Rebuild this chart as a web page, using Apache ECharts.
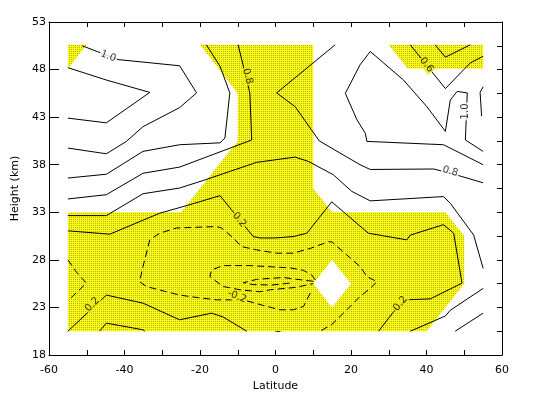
<!DOCTYPE html>
<html>
<head>
<meta charset="utf-8">
<script src="https://cdn.jsdelivr.net/npm/echarts@6/dist/echarts.min.js"></script>
<style>
html,body{margin:0;padding:0;background:#fff}
#chart{width:540px;height:397px}
</style>
</head>
<body>
<div id="chart"></div>
<script>
// tick values on the height axis
var heightTicks = [18, 23, 28, 33, 38, 43, 48, 53];
var heightMinor = [20.5, 25.5, 30.5, 35.5, 40.5, 45.5, 50.5];
var heightAll = [18, 20.5, 23, 25.5, 28, 30.5, 33, 35.5, 38, 40.5, 43, 45.5, 48, 50.5, 53];

// shaded (yellow) areas, [latitude, height]
var shadeMain = [[-20,50.6],[10,50.6],[10,35.5],[15,33],[45,33],[50,30.5],[50,25.5],[40,20.5],[-55,20.5],[-55,33],[-25,33],[-10,40.5],[-10,45.5]];
var shadeTopLeft = [[-55,50.6],[-50,50.6],[-55,48.1]];
var shadeTopRight = [[30,50.6],[55,50.6],[55,48.1],[35,48.1]];
var gapDiamond = [[15,28],[20,25.5],[15,23],[10,25.5]];

// solid contours
var line10top = [[-51.2,50.5],[-41.7,49.05],[-25.4,48.4],[-20.9,45.55],[-25.4,44.0],[-35.1,42.0],[-39.5,40.45],[-44.8,39.15],[-55,39.75]];
var line12top = [[-55,48.2],[-44.8,46.9],[-33.3,45.6],[-44.8,42.4],[-55,42.9]];
var line06left = [[-55,36.6],[-44.8,37.0],[-35.1,39.4],[-25.4,40.1],[-14.7,40.3],[-13.4,40.8],[-12.1,45.55],[-14.7,48.35],[-18.3,50.6]];
var line08left = [[-55,34.4],[-44.8,34.85],[-35.1,37.1],[-25.4,37.75],[-6.3,40.6],[-6.8,45.55],[-9.9,50.6]];
var line04 = [[-55,32.65],[-44.8,32.65],[-35.1,34.95],[-25.4,35.55],[-18.7,36.4],[-5,38.25],[5.2,38.8],[8.7,38.35],[15.3,36.95],[20.2,35.2],[25.1,34.2],[44.5,34.65],[46.3,33.95],[52.5,30.6],[55,27.1]];
var line02mid = [[-55,31.05],[-43.9,30.7],[-30.7,32.9],[-22.7,33.8],[-14.7,34.75],[-5.9,30.45],[-4.1,30.3],[-0.1,30.3],[4.7,30.45],[8.3,30.8],[14.9,34.1],[24.6,30.8],[34.8,30.1],[35.7,30.6],[44.5,31.7],[47.2,30.8],[49.4,25.55],[41,23.9],[34.4,23.8],[31.3,22.55],[27.3,20.5]];
var line08right = [[15.8,50.6],[0.3,45.55],[5.2,44.1],[11.6,40.5],[22.4,38.0],[25.1,37.5],[41.9,37.55],[49.0,36.8],[55,36.1]];
var line10right = [[55,38.0],[44.5,40.1],[24.2,40.45],[23.8,41.3],[21.6,42.7],[18.5,45.5],[22.4,48.5],[25.1,49.9],[33.9,46.9],[40.1,44.1],[45,41.5],[46.3,44.8],[48.1,45.7],[50.8,45.55],[50.3,40.6],[55,39.4]];
var line12right = [[55,46.2],[54.2,45.6],[54.6,43.1]];
var line06right = [[35.7,50.6],[45,46.0],[51.6,48.7],[55,49.4]];
var line04right = [[42.3,50.6],[45,49.3],[51.6,50.6]];
var line02low = [[-55,20.5],[-44.8,24.3],[-35.1,23.45],[-25.4,21.7],[-16.9,22.4],[-13.9,22.0],[-7.6,20.5]];
var line04low = [[-46.6,20.5],[-44.8,21.35],[-35.1,20.65],[-34.6,20.5]];
var lineRightA = [[55,25.0],[46.3,22.7],[45,22.1],[35.7,20.5]];
var lineRightB = [[55,22.4],[47.6,20.5]];

// dashed (negative) contours
var dashLeft = [[-55,28.0],[-52.8,26.75],[-50.1,25.55],[-55,23.7]];
var dashOuter = [[9.2,24.5],[7.4,23.1],[4.7,22.75],[1.2,22.75],[-4.1,23.3],[-8.5,23.8],[-15.6,23.8],[-20.0,24.0],[-25.4,24.3],[-28.9,24.65],[-34.2,25.2],[-36.0,25.7],[-35.1,27.3],[-33.3,30.1],[-30.7,30.8],[-26.2,31.35],[-15.6,31.5],[-14.3,31.35],[-11.2,30.3],[-9.0,29.4],[-5.0,29.05],[0.3,28.7],[4.7,28.7],[9.2,29.2],[14.0,29.9],[14.9,29.9],[19.8,28.2],[22.4,27.3],[24.2,26.25],[26.9,25.7],[25.1,25.0],[22.4,24.15],[18.9,22.75],[14.9,21.2],[11.8,20.5]];
var dashMid = [[10.5,25.9],[9.6,26.4],[7.4,26.9],[3.9,27.15],[-2.3,27.3],[-6.8,27.4],[-13.9,27.4],[-16.9,26.95],[-17.4,26.25],[-13.9,25.2],[-9.4,24.85],[-4.1,24.65],[-1.5,24.85],[5.2,25.1],[10.0,25.5]];
var dashInner = [[10.0,25.75],[4.7,26.0],[2.1,26.15],[-5.0,25.95],[-8.5,25.6],[-5.9,25.4],[-1.0,25.35],[4.7,25.6]];

// contour labels
var labelText = ['1.0', '0.8', '0.6', '1.0', '0.8', '0.2', '-0.2', '0.2', '0.2'];
var labelLat = [-44.3, -7.4, 40.0, 50.4, 46.3, -9.6, -10.2, -48.5, 33.1];
var labelHgt = [49.4, 47.3, 48.5, 43.6, 37.3, 32.2, 24.15, 23.3, 23.4];
var labelAngle = [-21, -76, -52, 90, -16, -51, -22, 45, 50];
var labelOnShade = [false, true, true, false, false, true, true, true, true];

var FONT = 'DejaVu Sans';
var YEL = '#ecec14';

// dithered yellow like the original
var pat = document.createElement('canvas');
pat.width = 2; pat.height = 2;
var pc = pat.getContext('2d');
pc.fillStyle = '#ffff00'; pc.fillRect(0, 0, 2, 2);
pc.fillStyle = '#b0b048'; pc.fillRect(1, 1, 1, 1);
var yellowFill = {image: pat, repeat: 'repeat'};

function areaSeries(poly, fill, z) {
  return {
    type: 'custom', z: z, silent: true, clip: false,
    data: [poly[0]],
    renderItem: function (params, api) {
      var pts = poly.map(function (p) { return api.coord(p); });
      return {type: 'polygon', shape: {points: pts}, style: {fill: fill}};
    }
  };
}

function contour(pts, dashed) {
  return {
    type: 'line', data: pts, z: 3, silent: true,
    showSymbol: false, symbol: 'none',
    lineStyle: {color: '#000', width: 1, type: dashed ? [7, 4] : 'solid'}
  };
}

var labelData = [];
for (var i = 0; i < labelText.length; i++) {
  labelData.push({
    value: [labelLat[i], labelHgt[i]],
    name: labelText[i],
    label: {rotate: labelAngle[i], backgroundColor: labelOnShade[i] ? YEL : '#fff'}
  });
}

var series = [
  areaSeries(shadeMain, yellowFill, 1),
  areaSeries(shadeTopLeft, yellowFill, 1),
  areaSeries(shadeTopRight, yellowFill, 1),
  areaSeries(gapDiamond, '#fff', 2)
];
[line10top, line12top, line06left, line08left, line04, line02mid, line08right, line10right,
 line12right, line06right, line04right, line02low, line04low, lineRightA, lineRightB].forEach(function (l) {
  series.push(contour(l, false));
});
[dashLeft, dashOuter, dashMid, dashInner].forEach(function (l) {
  series.push(contour(l, true));
});
series.push({
  type: 'scatter', z: 5, silent: true, symbolSize: 1,
  itemStyle: {color: 'rgba(0,0,0,0)'},
  data: labelData,
  label: {
    show: true, position: 'inside', formatter: '{b}',
    color: '#000', fontFamily: FONT, fontSize: 10, padding: [0, 1]
  }
});

var axisLine = {show: true, onZero: false, lineStyle: {color: '#000', width: 1}};
var txt = {color: '#000', fontFamily: FONT, fontSize: 11};

var myChart = echarts.init(document.getElementById('chart'));
var option = {
  animation: false,
  backgroundColor: '#fff',
  grid: {left: 49, right: 38, top: 22, bottom: 42},
  xAxis: [
    {
      type: 'value', position: 'bottom', min: -60, max: 60, interval: 10,
      axisLine: axisLine,
      axisTick: {inside: true, length: 5, lineStyle: {color: '#000'}},
      axisLabel: Object.assign({margin: 10, formatter: function (v) { return v % 20 === 0 ? String(v) : ''; }}, txt),
      splitLine: {show: false},
      name: 'Latitude', nameLocation: 'middle', nameGap: 23,
      nameTextStyle: txt
    },
    {
      type: 'value', position: 'top', min: -60, max: 60, interval: 10,
      axisLine: axisLine,
      axisTick: {inside: true, length: 5, lineStyle: {color: '#000'}},
      axisLabel: {show: false}, splitLine: {show: false}
    }
  ],
  yAxis: [
    {
      type: 'value', position: 'left', min: 18, max: 53,
      axisLine: axisLine,
      axisTick: {inside: true, length: 10, customValues: heightTicks, lineStyle: {color: '#000'}},
      axisLabel: Object.assign({margin: 3, customValues: heightTicks}, txt),
      splitLine: {show: false},
      name: 'Height (km)', nameLocation: 'middle', nameGap: 16, nameRotate: 90,
      nameTextStyle: txt
    },
    {
      type: 'value', position: 'left', min: 18, max: 53,
      axisLine: {show: false},
      axisTick: {inside: true, length: 5, customValues: heightMinor, lineStyle: {color: '#000'}},
      axisLabel: {show: false}, splitLine: {show: false}
    },
    {
      type: 'value', position: 'right', min: 18, max: 53,
      axisLine: axisLine,
      axisTick: {inside: true, length: 5, customValues: heightAll, lineStyle: {color: '#000'}},
      axisLabel: {show: false}, splitLine: {show: false}
    }
  ],
  series: series
};
myChart.setOption(option);
</script>
</body>
</html>
